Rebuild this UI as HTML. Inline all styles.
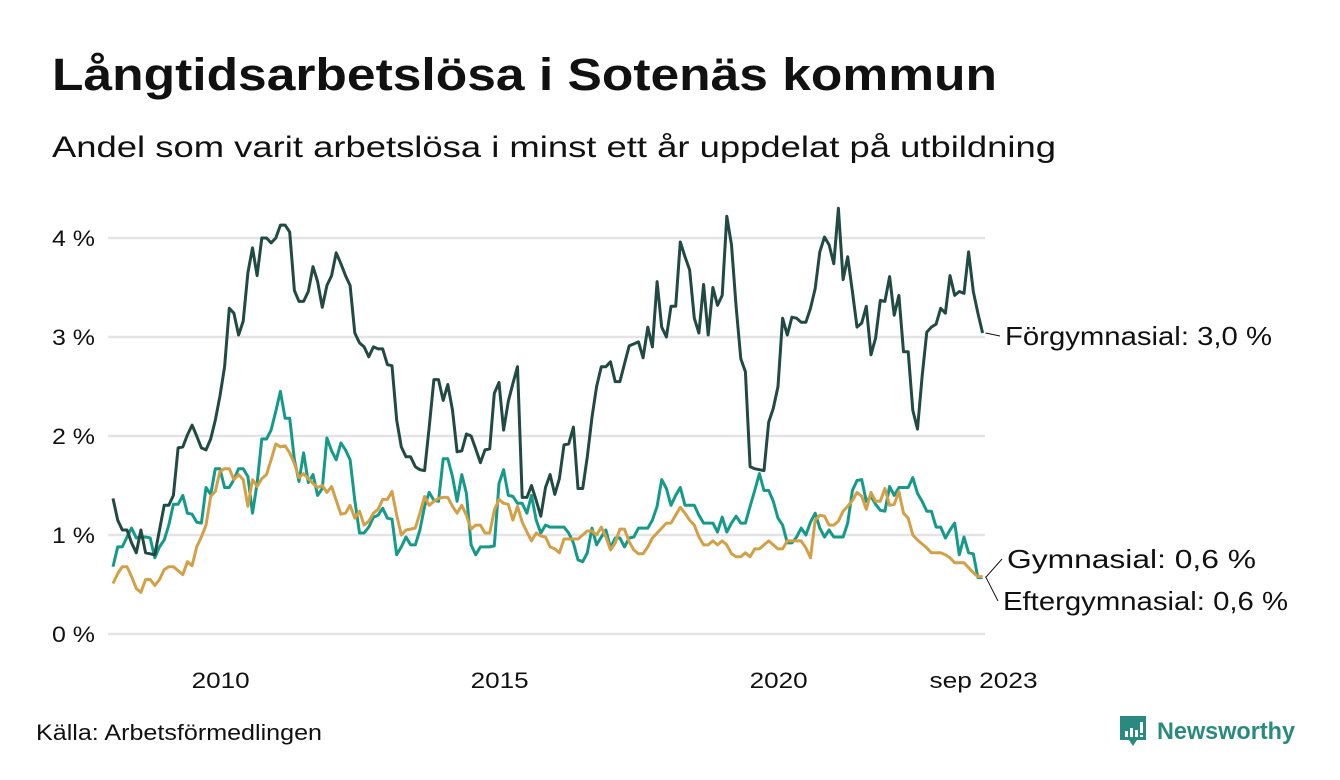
<!DOCTYPE html>
<html><head><meta charset="utf-8">
<style>
html,body{margin:0;padding:0;background:#fff;}
svg{display:block;font-family:"Liberation Sans",sans-serif;}
</style></head>
<body>
<svg id="chart" width="1340" height="780" viewBox="0 0 1340 780">
<text x="52" y="90" font-size="45" font-weight="bold" fill="#111" textLength="945" lengthAdjust="spacingAndGlyphs">Långtidsarbetslösa i Sotenäs kommun</text>
<text x="52" y="157" font-size="30" fill="#111" textLength="1004" lengthAdjust="spacingAndGlyphs">Andel som varit arbetslösa i minst ett år uppdelat på utbildning</text>
<g id="grid"></g>
<g id="yticks"></g>
<g id="xticks"></g>
<g id="series"></g>
<g id="labels"></g>
<text x="36" y="740" font-size="22" fill="#111" textLength="286" lengthAdjust="spacingAndGlyphs">Källa: Arbetsförmedlingen</text>
<g>
<path d="M1120 716 h26 v24 h-9 l-4 6 l-4 -6 h-9 z" fill="#2a8a7f"/>
<rect x="1125" y="731" width="3" height="6" fill="#fff"/><rect x="1130" y="728" width="3" height="9" fill="#fff"/><rect x="1135" y="730" width="3" height="7" fill="#fff"/><rect x="1140" y="722" width="3" height="11" fill="#fff"/><rect x="1140" y="735" width="3" height="2" fill="#fff"/>
<text x="1157" y="739" font-size="24" font-weight="bold" fill="#2a8a7f" textLength="138" lengthAdjust="spacingAndGlyphs">Newsworthy</text>
</g>
</svg>
<script>
const yTicks = [0, 1, 2, 3, 4];
const yTickLabels = ["0 %", "1 %", "2 %", "3 %", "4 %"];
const xTickYears = [2010, 2015, 2020];
const xTickLabels = ["2010", "2015", "2020"];
const startYear = 2008;
const endLabel = "sep 2023";
const forgymnasial = [1.37,1.15,1.05,1.05,0.92,0.82,1.05,0.82,0.81,0.80,1.05,1.30,1.30,1.40,1.88,1.89,2.01,2.11,2.0,1.88,1.86,1.97,2.16,2.4,2.7,3.29,3.24,3.02,3.16,3.65,3.9,3.62,4.0,4.0,3.95,4.0,4.13,4.13,4.06,3.47,3.36,3.36,3.46,3.71,3.56,3.3,3.52,3.62,3.85,3.74,3.62,3.52,3.04,2.94,2.9,2.8,2.9,2.88,2.88,2.72,2.71,2.16,1.89,
1.79,1.79,1.69,1.66,1.65,2.09,2.57,2.57,2.36,2.52,2.26,1.84,1.85,2.02,2.0,1.87,1.73,1.86,1.87,2.43,2.54,2.06,2.35,2.53,2.70,1.38,1.38,1.5,1.35,1.19,1.48,1.61,1.41,1.57,1.91,1.92,2.09,1.47,1.47,1.79,2.19,2.5,2.70,2.70,2.75,2.55,2.55,2.73,2.91,2.93,2.95,2.79,3.10,2.90,3.56,3.10,3.0,3.31,3.31,3.96,3.81,3.68,3.19,
3.04,3.53,3.02,3.50,3.32,3.42,4.22,3.93,3.31,2.78,2.65,1.69,1.67,1.66,1.65,2.14,2.28,2.50,3.19,3.02,3.20,3.19,3.15,3.15,3.29,3.49,3.86,4.01,3.93,3.74,4.30,3.58,3.81,3.46,3.10,3.14,3.31,2.82,2.99,3.37,3.36,3.61,3.22,3.42,2.85,2.85,2.26,2.07,2.60,3.05,3.10,3.13,3.29,3.24,3.62,3.42,3.46,3.44,3.86,3.46,3.24,3.04];
const gymnasial = [0.68,0.88,0.88,0.98,1.07,0.97,0.98,0.98,0.97,0.77,0.88,0.95,1.10,1.31,1.31,1.40,1.22,1.21,1.13,1.12,1.48,1.41,1.67,1.67,1.48,1.48,1.56,1.67,1.67,1.59,1.22,1.52,1.97,1.97,2.06,2.25,2.45,2.18,2.18,1.76,1.54,1.83,1.53,1.61,1.40,1.47,1.98,1.85,1.76,1.93,1.86,1.76,1.35,1.02,1.02,1.08,1.18,1.20,1.27,1.17,1.16,0.80,0.88,
0.98,0.90,0.90,1.05,1.29,1.43,1.35,1.34,1.77,1.77,1.59,1.34,1.61,1.42,0.90,0.80,0.88,0.88,0.88,0.89,1.52,1.66,1.40,1.39,1.32,1.32,1.22,1.40,1.15,1.02,1.10,1.08,1.08,1.08,1.08,1.02,0.92,0.75,0.73,0.82,1.07,0.90,0.98,1.05,0.87,0.97,0.97,0.88,0.97,0.98,1.07,1.07,1.07,1.15,1.29,1.56,1.47,1.30,1.40,1.48,1.30,1.30,1.30,
1.20,1.12,1.12,1.12,1.03,1.18,1.03,1.12,1.19,1.12,1.12,1.29,1.45,1.62,1.45,1.45,1.34,1.17,1.10,0.92,0.92,0.98,1.07,1.00,1.13,1.22,1.07,0.98,1.05,0.98,0.98,0.98,1.12,1.45,1.55,1.56,1.34,1.39,1.31,1.25,1.24,1.49,1.40,1.48,1.48,1.48,1.58,1.42,1.34,1.24,1.24,1.08,1.08,0.97,1.05,1.12,0.80,0.98,0.82,0.81,0.57,0.57];
const eftergymnasial = [0.51,0.61,0.68,0.68,0.58,0.46,0.42,0.55,0.55,0.49,0.55,0.65,0.68,0.68,0.64,0.60,0.73,0.69,0.88,0.98,1.10,1.39,1.44,1.64,1.67,1.67,1.56,1.61,1.56,1.29,1.56,1.49,1.57,1.61,1.76,1.92,1.89,1.90,1.83,1.72,1.58,1.62,1.57,1.52,1.48,1.50,1.43,1.49,1.35,1.21,1.22,1.30,1.17,1.24,1.10,1.14,1.22,1.26,1.36,1.36,1.44,1.20,1.00,
1.05,1.06,1.07,1.22,1.39,1.30,1.34,1.37,1.38,1.38,1.29,1.22,1.30,1.20,1.06,1.10,1.10,1.02,1.02,1.25,1.36,1.32,1.31,1.15,1.29,1.13,1.03,0.94,1.02,0.99,0.98,0.88,0.86,0.82,0.96,0.96,0.96,0.96,1.00,1.04,1.04,1.00,1.08,0.98,0.85,0.92,1.06,1.06,0.93,0.85,0.81,0.81,0.88,0.97,1.02,1.07,1.12,1.12,1.20,1.28,1.22,1.15,1.10,
0.98,0.90,0.90,0.94,0.90,0.94,0.90,0.81,0.78,0.78,0.82,0.78,0.86,0.86,0.90,0.94,0.90,0.86,0.86,0.94,0.94,0.94,0.94,0.87,0.77,1.15,1.20,1.19,1.10,1.10,1.14,1.24,1.29,1.35,1.43,1.39,1.26,1.43,1.34,1.34,1.47,1.30,1.31,1.44,1.22,1.17,1.00,0.95,0.91,0.87,0.82,0.82,0.82,0.80,0.77,0.72,0.72,0.72,0.67,0.62,0.58,0.58];

const NS = "http://www.w3.org/2000/svg";
const X0 = 113, MONTH = 4.65, Y0 = 634, PER = 99;
function xScale(i){ return X0 + i*MONTH; }
function xYear(yr){ return X0 + (yr-startYear)*12*MONTH - 4; }
function yScale(v){ return Y0 - v*PER; }
function mk(tag, parent){ const e=document.createElementNS(NS,tag); document.getElementById(parent).appendChild(e); return e; }

yTicks.forEach((t,k)=>{
  const l = mk("line","grid");
  
  
  l.setAttribute("x1",108); l.setAttribute("x2",985);
  l.setAttribute("y1",yScale(t)); l.setAttribute("y2",yScale(t));
  l.setAttribute("stroke","#e3e3e8"); l.setAttribute("stroke-width","2.5");
  const tx = mk("text","yticks");
  
  
  tx.setAttribute("x",95); tx.setAttribute("y",yScale(t)+8);
  tx.setAttribute("text-anchor","end"); tx.setAttribute("font-size","22"); tx.setAttribute("fill","#111");
  tx.setAttribute("textLength","43"); tx.setAttribute("lengthAdjust","spacingAndGlyphs");
  tx.textContent = yTickLabels[k];
});
xTickYears.forEach((yr,k)=>{
  const tx = mk("text","xticks");
  
  
  tx.setAttribute("x",xYear(yr)); tx.setAttribute("y",688);
  tx.setAttribute("text-anchor","middle"); tx.setAttribute("font-size","22"); tx.setAttribute("fill","#111");
  tx.setAttribute("textLength","58"); tx.setAttribute("lengthAdjust","spacingAndGlyphs");
  tx.textContent = xTickLabels[k];
});
{
  const tx = mk("text","xticks");
  
  
  tx.setAttribute("x",xScale(forgymnasial.length-1)+1); tx.setAttribute("y",688);
  tx.setAttribute("text-anchor","middle"); tx.setAttribute("font-size","22"); tx.setAttribute("fill","#111");
  tx.setAttribute("textLength","108"); tx.setAttribute("lengthAdjust","spacingAndGlyphs");
  tx.textContent = endLabel;
}
function line(arr, color, name){
  const p = mk("polyline","series");
  
  
  p.setAttribute("points", arr.map((v,i)=>xScale(i).toFixed(1)+","+yScale(v).toFixed(1)).join(" "));
  p.setAttribute("fill","none"); p.setAttribute("stroke",color); p.setAttribute("stroke-width","3");
  p.setAttribute("stroke-linejoin","round");
}
line(gymnasial,"#159a8a","line-gymnasial");
line(eftergymnasial,"#d3a048","line-eftergymnasial");
line(forgymnasial,"#214a43","line-forgymnasial");

function fmt(v){ return v.toFixed(1).replace(".",","); }
function endLabelFor(arr, name, text, ly, lx, len){
  const n = arr.length-1, ex = xScale(n)+3, ey = yScale(arr[n]);
  const l = mk("line","labels");
  
  
  l.setAttribute("x1",ex); l.setAttribute("y1",ey); l.setAttribute("x2",lx-5); l.setAttribute("y2",ly-9);
  l.setAttribute("stroke","#111"); l.setAttribute("stroke-width","1");
  const t = mk("text","labels");
  
  
  t.setAttribute("x",lx); t.setAttribute("y",ly); t.setAttribute("font-size","26"); t.setAttribute("fill","#111");
  t.setAttribute("textLength",len); t.setAttribute("lengthAdjust","spacingAndGlyphs");
  t.textContent = text + ": " + fmt(arr[n]) + " %";
}
endLabelFor(forgymnasial,"label-forgymnasial","Förgymnasial",345,1005,267);
endLabelFor(gymnasial,"label-gymnasial","Gymnasial",568,1007,249);
endLabelFor(eftergymnasial,"label-eftergymnasial","Eftergymnasial",610,1003,285);
</script>
</body></html>
